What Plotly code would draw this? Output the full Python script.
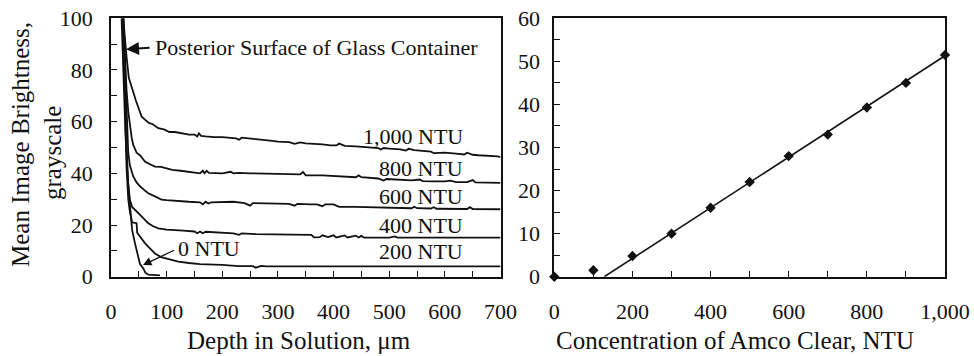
import plotly.graph_objects as go

# ---------------- data: left panel (depth profiles) ----------------
ntu0_x = [19, 22, 26, 30, 34, 38, 43, 48, 52, 58, 62, 67, 75, 88]
ntu0_y = [100, 80, 55, 38, 26, 18, 13, 8, 5, 3.2, 1.5, 0.8, 0.6, 0.5]

ntu200_x = [22, 25, 28, 31, 34, 38, 42, 46, 47, 55, 61, 70, 79, 90, 100, 110, 121, 140, 160,
            200, 229, 255, 260, 270, 280, 700]
ntu200_y = [100, 65, 42, 30, 25, 21, 20.7, 20.7, 17, 14.5, 13, 11, 9, 7.6, 7, 6.5, 5.8, 5.3, 4.9,
            4.6, 4.1, 4.1, 3.5, 4.2, 4, 4]

ntu400_x = [22, 25, 28, 31, 34, 38, 43, 50, 55, 61, 67, 75, 85, 100, 109, 130, 150, 155, 160, 165,
            170, 200, 220, 230, 235, 260, 300, 340, 360, 365, 375, 380, 390, 400, 405, 420, 425,
            440, 445, 450, 455, 500, 510, 515, 700]
ntu400_y = [100, 70, 50, 36, 29.7, 27, 25.8, 24.5, 23.3, 22, 20.7, 19.6, 18.7, 18.2, 18, 17.8, 17.5,
            16.8, 17.5, 16.8, 17.4, 17, 16.8, 16.2, 16.8, 16.5, 16.3, 16.2, 16.2, 15.2, 15.3, 16,
            15.3, 16, 15.2, 16, 15.2, 15.9, 15.2, 15.8, 15.1, 15.1, 15.6, 15.1, 15.1]

ntu600_x = [22, 25, 28, 31, 34, 37, 40, 46, 52, 60, 67, 80, 91, 100, 110, 121, 140, 160, 165, 170,
            175, 180, 200, 220, 240, 250, 255, 280, 300, 320, 330, 335, 360, 370, 380, 385, 400,
            410, 440, 470, 500, 540, 545, 550, 575, 580, 585, 640, 645, 650, 700]
ntu600_y = [100, 80, 62, 48, 43, 41, 38.8, 36.5, 35, 33.5, 32.3, 31, 29.8, 29.6, 29.4, 29.2, 29,
            28.8, 28, 29, 28.3, 28.8, 28.8, 29, 28.5, 27.5, 28.5, 28.4, 28.4, 28.2, 27.5, 28.2, 28,
            28, 27.3, 28, 28, 27, 27, 26.8, 26.6, 26.5, 27.1, 26.5, 26.4, 26.9, 26.3, 26.2, 26.9,
            26.2, 26.1]

ntu800_x = [22, 25, 28, 31, 34, 37, 40, 46, 52, 61, 70, 79, 90, 100, 110, 125, 140, 160, 165, 168,
            172, 176, 200, 215, 220, 230, 250, 280, 300, 320, 340, 345, 350, 380, 400, 420, 440,
            445, 450, 480, 490, 495, 520, 540, 555, 560, 580, 600, 610, 620, 640, 650, 655, 700]
ntu800_y = [100, 85, 72, 64, 58, 54, 51, 48, 47, 44.6, 43.5, 42.6, 42.5, 41.8, 41.3, 41, 40.5, 40,
            41, 40, 41, 40.2, 40, 40.6, 40, 40.2, 40, 39.8, 39.8, 39.6, 39.6, 40.5, 39.2, 39.2, 39,
            38.9, 38.5, 39.2, 38.5, 38, 37.2, 37.8, 37.6, 37.3, 37.6, 37, 36.9, 36.9, 37.2, 36.6,
            36.6, 37.4, 36.5, 36.3]

ntu1000_x = [22, 25, 28, 32, 36, 40, 45, 50, 55, 60, 68, 75, 85, 95, 105, 115, 125, 140, 150, 155,
             158, 162, 170, 185, 200, 225, 230, 235, 260, 275, 290, 300, 320, 330, 340, 350, 365,
             380, 395, 405, 410, 420, 440, 455, 470, 480, 485, 490, 500, 520, 530, 535, 545, 560,
             575, 580, 600, 620, 635, 640, 650, 660, 680, 695, 700]
ntu1000_y = [100, 92, 85, 77, 74, 72, 68, 65, 62, 61, 59.5, 59, 57.5, 57, 56, 56, 55.5, 55, 55,
             54.3, 55.5, 54.5, 54.3, 54, 54, 53.5, 53, 53.8, 53.2, 53, 52.6, 52.3, 52.1, 51.4, 52,
             51.6, 51.5, 51.2, 50.8, 50.8, 51.5, 50.6, 50.4, 50.2, 49.8, 49.8, 49.2, 49.8, 49.6,
             49.3, 48.8, 49.5, 49, 48.6, 48.4, 47.8, 48, 47.6, 47.3, 48, 47.2, 47, 46.8, 46.6, 46.3]

curve_labels = ["1,000 NTU", "800 NTU", "600 NTU", "400 NTU", "200 NTU"]
curve_label_y = [54.3, 42, 31, 20, 9.7]

# ---------------- data: right panel (calibration) ----------------
conc = [0, 100, 200, 300, 400, 500, 600, 700, 800, 900, 1000]
brightness = [0, 1.5, 4.8, 10, 16, 22, 28, 33, 39.3, 45, 51.5]
trend_x = [128, 1000]
trend_y = [0, 51.3]

# ---------------- figure ----------------
W, H = 974, 356
FONT = "Liberation Serif, Times New Roman, serif"
INK = "#111111"

fig = go.Figure()
line_style = dict(color=INK, width=1.8)
for xs, ys in [(ntu0_x, ntu0_y), (ntu200_x, ntu200_y), (ntu400_x, ntu400_y),
               (ntu600_x, ntu600_y), (ntu800_x, ntu800_y), (ntu1000_x, ntu1000_y)]:
    fig.add_trace(go.Scatter(x=xs, y=ys, mode="lines", line=line_style,
                             xaxis="x", yaxis="y", showlegend=False, cliponaxis=True))

fig.add_trace(go.Scatter(x=trend_x, y=trend_y, mode="lines", line=dict(color=INK, width=1.6),
                         xaxis="x2", yaxis="y2", showlegend=False))
fig.add_trace(go.Scatter(x=conc, y=brightness, mode="markers",
                         marker=dict(symbol="diamond", size=8, color=INK),
                         xaxis="x2", yaxis="y2", showlegend=False, cliponaxis=False))

def px_x(p):
    return p / W

def px_y(p):
    return 1 - p / H

ax_common = dict(showline=True, linecolor=INK, linewidth=1.6, mirror=True, ticks="inside",
                 ticklen=6, tickwidth=1.3, tickcolor=INK, showgrid=False, zeroline=False,
                 tickfont=dict(family=FONT, size=22, color=INK), automargin=False)
minor_common = dict(ticks="inside", ticklen=6, tickwidth=1.3, tickcolor=INK)

ydom = [px_y(276.7), px_y(18.3)]
fig.update_layout(
    width=W, height=H, margin=dict(l=0, r=0, t=0, b=0),
    paper_bgcolor="white", plot_bgcolor="white",
    font=dict(family=FONT, size=22, color=INK),
    xaxis=dict(domain=[px_x(111), px_x(500.5)], range=[0, 700], dtick=100,
               minor=dict(dtick=50, **minor_common),
               ticklabelstandoff=14, anchor="y", **ax_common),
    yaxis=dict(domain=ydom, range=[0, 100], dtick=20,
               minor=dict(dtick=10, **minor_common),
               ticklabelstandoff=12, anchor="x", **ax_common),
    xaxis2=dict(domain=[px_x(554.3), px_x(945)], range=[0, 1000], dtick=200, tickformat=",",
                minor=dict(dtick=100, **minor_common),
                ticklabelstandoff=14, anchor="y2", **ax_common),
    yaxis2=dict(domain=ydom, range=[0, 60], dtick=10,
                minor=dict(dtick=5, **minor_common),
                ticklabelstandoff=8, anchor="x2", **ax_common),
)

TITLE_FONT = dict(family=FONT, size=25, color=INK)
LABEL_FONT = dict(family=FONT, size=22, color=INK)

ann = []
# curve labels
for t, yv in zip(curve_labels, curve_label_y):
    ann.append(dict(x=636, y=yv, xref="x", yref="y", text=t, showarrow=False,
                    xanchor="right", yanchor="middle", font=LABEL_FONT))
# posterior surface arrow + text
ann.append(dict(x=75, y=88.6, xref="x", yref="y", text="Posterior Surface of Glass Container",
                showarrow=False, xanchor="left", yanchor="middle", font=LABEL_FONT))
ann.append(dict(x=27, y=88, ax=72, ay=88.6, xref="x", yref="y", axref="x", ayref="y", text="",
                showarrow=True, arrowhead=2, arrowsize=1.3, arrowwidth=2, arrowcolor=INK))
# 0 NTU arrow + text
ann.append(dict(x=117, y=11, xref="x", yref="y", text="0 NTU", showarrow=False,
                xanchor="left", yanchor="middle", font=LABEL_FONT))
ann.append(dict(x=57.5, y=4.5, ax=116, ay=10.5, xref="x", yref="y", axref="x", ayref="y", text="",
                showarrow=True, arrowhead=2, arrowsize=1.3, arrowwidth=1.3, arrowcolor=INK))
# axis titles
ann.append(dict(x=px_x(299), y=px_y(340), xref="paper", yref="paper", borderpad=0,
                text="Depth in Solution, \u03bcm", showarrow=False, xanchor="center",
                yanchor="middle", font=TITLE_FONT))
ann.append(dict(x=px_x(735), y=px_y(340), xref="paper", yref="paper", borderpad=0,
                text="Concentration of Amco Clear, NTU", showarrow=False, xanchor="center",
                yanchor="middle", font=TITLE_FONT))
ann.append(dict(x=px_x(21), y=px_y(145), xref="paper", yref="paper", borderpad=0,
                text="Mean Image Brightness,", showarrow=False, textangle=-90,
                xanchor="center", yanchor="middle", font=TITLE_FONT))
ann.append(dict(x=px_x(52), y=px_y(153), xref="paper", yref="paper", borderpad=0,
                text="grayscale", showarrow=False, textangle=-90,
                xanchor="center", yanchor="middle", font=TITLE_FONT))
fig.update_layout(annotations=ann)

fig.write_html("out.html")
